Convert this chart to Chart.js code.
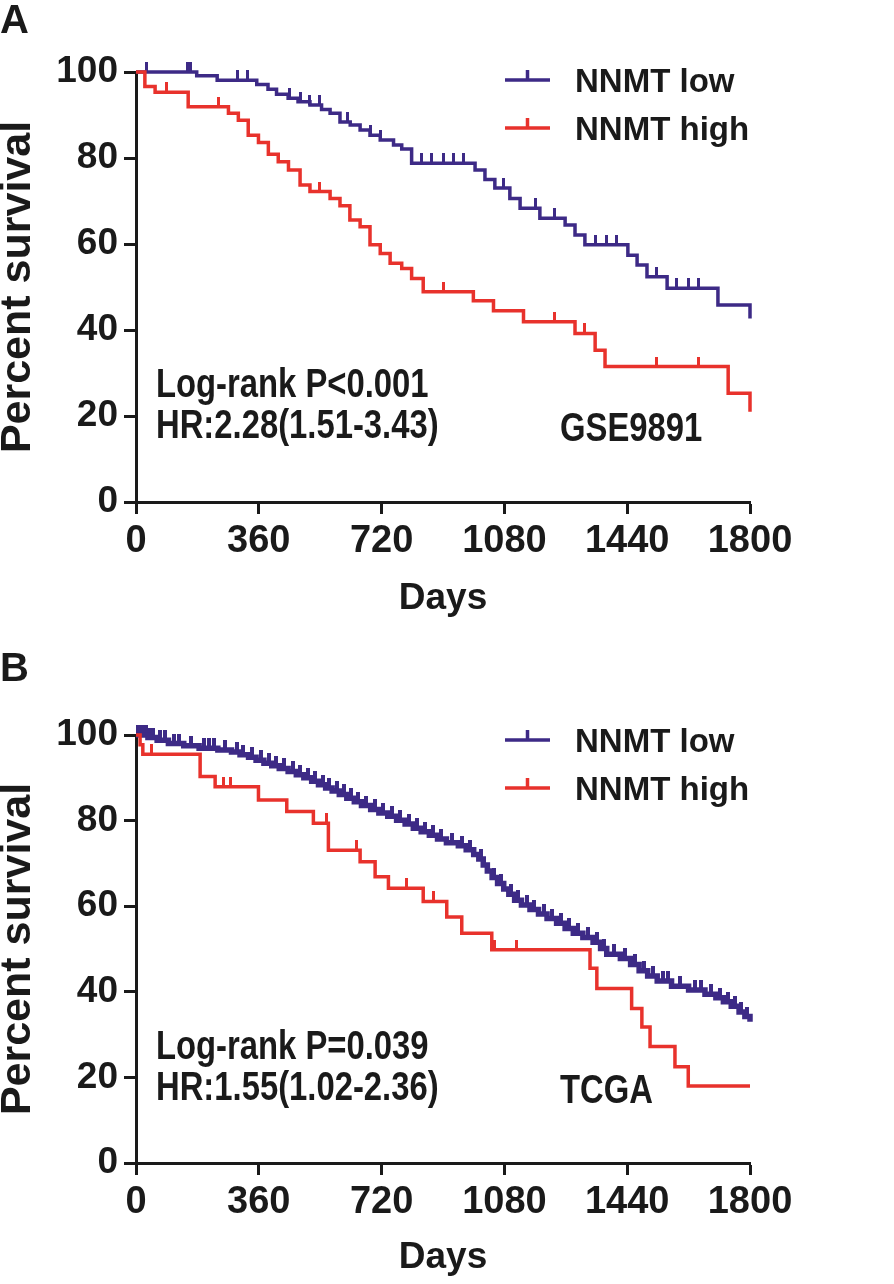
<!DOCTYPE html>
<html>
<head>
<meta charset="utf-8">
<script src="https://cdn.jsdelivr.net/npm/chart.js@4.4.1/dist/chart.umd.min.js"></script>
<style>
  html, body { margin: 0; padding: 0; background: #ffffff; }
  #wrap { position: relative; width: 894px; height: 1284px; overflow: hidden; background: #fff; }
  canvas { position: absolute; left: 0; }
</style>
</head>
<body>
<div id="wrap">
  <canvas id="cA" width="894" height="642" style="top:0px"></canvas>
  <canvas id="cB" width="894" height="642" style="top:642px"></canvas>
</div>
<script>
// ---------------- data ----------------
const xTicks = [0, 360, 720, 1080, 1440, 1800];
const yTicks = [0, 20, 40, 60, 80, 100];
const seriesNames = ['NNMT low', 'NNMT high'];
const xTitle = 'Days';
const yTitle = 'Percent survival';

// Panel A (GSE9891)
const aLowDays  = [0, 178, 238, 354, 387, 412, 446, 475, 510, 544, 569, 598, 628, 657, 686, 716, 755, 779, 808, 994, 1023, 1052, 1096, 1126, 1184, 1258, 1287, 1316, 1442, 1469, 1498, 1557, 1706, 1800];
const aLowSurv  = [100, 99.1, 98.1, 97.1, 96.0, 94.8, 93.9, 93.1, 92.3, 91.3, 90.4, 88.4, 87.7, 86.5, 85.3, 84.2, 83.0, 82.1, 78.8, 77.2, 75.0, 73.0, 70.6, 68.3, 66.0, 64.4, 62.1, 59.8, 57.4, 55.1, 52.4, 49.7, 45.8, 42.7];
const aLowCensor = [31, 150, 160, 298, 328, 451, 481, 510, 539, 621, 686, 716, 838, 867, 901, 930, 959, 1076, 1170, 1228, 1346, 1380, 1409, 1527, 1585, 1619, 1649];

const aHighDays = [0, 26, 56, 153, 271, 300, 329, 359, 388, 417, 447, 481, 510, 569, 598, 627, 657, 686, 716, 745, 779, 808, 842, 989, 1048, 1136, 1287, 1346, 1375, 1736, 1800];
const aHighSurv = [100, 96.6, 95.3, 91.9, 90.4, 88.8, 85.3, 83.6, 80.9, 79.1, 77.2, 73.7, 72.2, 70.6, 68.9, 65.6, 64.0, 59.8, 57.8, 55.5, 54.3, 52.0, 48.9, 46.8, 44.5, 41.9, 39.2, 35.3, 31.5, 25.3, 21.0];
const aHighCensor = [90, 241, 539, 901, 1228, 1316, 1526, 1648];

// Panel B (TCGA)
const bLowDays = [0, 35, 62, 95, 140, 185, 240, 280, 305, 330, 352, 375, 398, 420, 446, 470, 492, 515, 535, 556, 575, 596, 618, 640, 661, 688, 712, 738, 764, 789, 813, 836, 860, 884, 910, 945, 968, 990, 1005, 1018, 1030, 1044, 1060, 1078, 1093, 1110, 1130, 1155, 1180, 1205, 1233, 1258, 1282, 1310, 1340, 1362, 1380, 1420, 1450, 1475, 1500, 1528, 1570, 1620, 1668, 1700, 1722, 1745, 1768, 1785, 1800];
const bLowSurv = [100, 99.4, 98.8, 98.0, 97.5, 96.9, 96.5, 96.0, 95.4, 94.8, 94.1, 93.4, 92.8, 92.2, 91.5, 90.7, 90.0, 89.2, 88.4, 87.6, 86.9, 86.1, 85.2, 84.4, 83.5, 82.6, 81.8, 81.0, 80.1, 79.2, 78.2, 77.4, 76.6, 75.7, 74.8, 74.1, 73.2, 72.1, 71.0, 69.6, 68.2, 66.7, 65.3, 64.0, 62.8, 61.4, 60.3, 59.2, 58.2, 57.1, 56.0, 54.8, 53.7, 52.7, 51.6, 50.1, 48.8, 47.8, 46.4, 44.9, 43.7, 42.5, 41.3, 40.4, 39.4, 38.6, 37.7, 36.6, 35.3, 34.2, 33.0];
const bLowCensor = [5, 12, 20, 28, 40, 50, 70, 85, 110, 125, 160, 200, 215, 230, 260, 295, 315, 340, 365, 390, 410, 435, 460, 480, 505, 525, 548, 565, 588, 610, 630, 652, 675, 700, 725, 750, 775, 800, 825, 848, 872, 895, 925, 955, 980, 1012, 1050, 1070, 1100, 1120, 1145, 1168, 1195, 1220, 1245, 1270, 1295, 1325, 1352, 1372, 1400, 1435, 1462, 1490, 1515, 1545, 1560, 1595, 1640, 1655, 1685, 1712, 1735, 1755, 1775, 1792];

const bHighDays = [0, 12, 20, 188, 232, 359, 442, 520, 564, 657, 701, 740, 842, 911, 955, 1043, 1331, 1351, 1453, 1483, 1507, 1580, 1619, 1800];
const bHighSurv = [100, 97.7, 95.5, 90.3, 87.9, 84.8, 82.1, 79.4, 73.1, 70.4, 66.9, 64.2, 61.1, 57.5, 53.7, 49.8, 45.5, 40.8, 36.1, 31.8, 27.2, 22.5, 18.0, 18.0];
const bHighCensor = [46, 256, 276, 559, 647, 794, 872, 1052, 1116];

const aNotes = ['Log-rank P<0.001', 'HR:2.28(1.51-3.43)', 'GSE9891'];
const bNotes = ['Log-rank P=0.039', 'HR:1.55(1.02-2.36)', 'TCGA'];

// ---------------- styling ----------------
const FAMILY = '"Liberation Sans", Arial, Helvetica, sans-serif';
const INK = '#1a1a1a';
const PURPLE = '#3d2a86';
const RED = '#e8322c';

function stepPts(days, surv) { return days.map((d, i) => ({ x: d, y: surv[i] })); }
function censorPts(cDays, days, surv) {
  return cDays.map(c => {
    let s = surv[0];
    for (let i = 0; i < days.length && days[i] <= c; i++) s = surv[i];
    return { x: c, y: s };
  });
}
function tickImg(color, w) {
  const c = document.createElement('canvas');
  c.width = w; c.height = 20;
  const g = c.getContext('2d');
  g.fillStyle = color;
  g.fillRect(0, 0, w, 10);
  return c;
}

const textPlugin = {
  id: 'panelText',
  afterDraw(chart, args, o) {
    const ctx = chart.ctx;
    ctx.save();
    ctx.fillStyle = INK;
    ctx.textAlign = 'left';
    ctx.textBaseline = 'alphabetic';
    ctx.font = 'bold 40px ' + FAMILY;
    ctx.fillText(o.letter, 0, o.letterY);
    const legendSets = chart.data.datasets.filter(d => d.label);
    legendSets.forEach((d, i) => {
      const ly = o.legendLineY[i];
      ctx.strokeStyle = d.borderColor;
      ctx.lineWidth = 3.5;
      ctx.beginPath();
      ctx.moveTo(505, ly); ctx.lineTo(550, ly);
      ctx.moveTo(527.5, ly); ctx.lineTo(527.5, ly - 10);
      ctx.stroke();
      ctx.fillStyle = INK;
      ctx.font = 'bold 33px ' + FAMILY;
      ctx.fillText(d.label, 575, o.legendTextY[i]);
    });
    ctx.font = 'bold 40px ' + FAMILY;
    o.notes.forEach((t, i) => {
      ctx.save();
      ctx.translate(o.noteX[i], o.noteY[i]);
      ctx.scale(0.82, 1);
      ctx.fillText(t, 0, 0);
      ctx.restore();
    });
    ctx.restore();
  }
};

function makePanel(id, p) {
  const ctx = document.getElementById(id);
  const lowImg = tickImg(PURPLE, p.lowTickW), highImg = tickImg(RED, 3);
  return new Chart(ctx, {
    type: 'line',
    data: {
      datasets: [
        { label: seriesNames[1], data: stepPts(p.highDays, p.highSurv), borderColor: RED, borderWidth: 3.5, stepped: true, pointRadius: 0, fill: false, clip: false },
        { type: 'scatter', data: censorPts(p.highCensor, p.highDays, p.highSurv), pointStyle: highImg, pointRadius: 5, showLine: false, clip: false },
        { label: seriesNames[0], data: stepPts(p.lowDays, p.lowSurv), borderColor: PURPLE, borderWidth: p.lowWidth, stepped: true, pointRadius: 0, fill: false, clip: false },
        { type: 'scatter', data: censorPts(p.lowCensor, p.lowDays, p.lowSurv), pointStyle: lowImg, pointRadius: 5, showLine: false, clip: false }
      ]
    },
    options: {
      responsive: false,
      animation: false,
      devicePixelRatio: 1,
      layout: { padding: { left: 0, right: 144, top: p.top, bottom: 0 } },
      plugins: { legend: { display: false }, tooltip: { enabled: false }, panelText: p.text },
      scales: {
        x: {
          type: 'linear', min: 0, max: 1800,
          afterBuildTicks: s => { s.ticks = xTicks.map(v => ({ value: v })); },
          afterFit: s => { s.height = p.xH; },
          ticks: { autoSkip: false, maxRotation: 0, padding: 5, color: INK, callback: v => String(v), font: { family: FAMILY, size: 38, weight: 'bold' } },
          grid: { display: true, drawOnChartArea: false, drawTicks: true, tickLength: 12, tickWidth: 3, tickColor: INK, color: INK },
          border: { display: true, color: INK, width: 3 },
          title: { display: true, text: xTitle, color: INK, font: { family: FAMILY, size: 37, weight: 'bold', lineHeight: 1.2 }, padding: { top: 0, bottom: p.daysPad } }
        },
        y: {
          type: 'linear', min: 0, max: 100,
          afterBuildTicks: s => { s.ticks = yTicks.map(v => ({ value: v })); },
          afterFit: s => { s.width = 136; },
          ticks: { padding: 6, color: INK, callback: v => String(v), font: { family: FAMILY, size: 37, weight: 'bold' } },
          grid: { display: true, drawOnChartArea: false, drawTicks: true, tickLength: 12, tickWidth: 3, tickColor: INK, color: INK },
          border: { display: true, color: INK, width: 3 },
          title: { display: true, text: yTitle, color: INK, font: { family: FAMILY, size: 43, weight: 'bold', lineHeight: 0.86 }, padding: 0 }
        }
      }
    },
    plugins: [textPlugin]
  });
}

makePanel('cA', {
  top: 72, xH: 140, daysPad: 21, lowWidth: 3.5, lowTickW: 3,
  lowDays: aLowDays, lowSurv: aLowSurv, lowCensor: aLowCensor,
  highDays: aHighDays, highSurv: aHighSurv, highCensor: aHighCensor,
  text: { letter: 'A', letterY: 33, legendLineY: [128, 80], legendTextY: [140, 92],
          notes: aNotes, noteX: [156, 156, 560], noteY: [397, 438, 441] }
});
makePanel('cB', {
  top: 93, xH: 121, daysPad: 4, lowWidth: 5.5, lowTickW: 4,
  lowDays: bLowDays, lowSurv: bLowSurv, lowCensor: bLowCensor,
  highDays: bHighDays, highSurv: bHighSurv, highCensor: bHighCensor,
  text: { letter: 'B', letterY: 39, legendLineY: [146, 98], legendTextY: [158, 110],
          notes: bNotes, noteX: [156, 156, 560], noteY: [417, 458, 461] }
});
</script>
</body>
</html>
